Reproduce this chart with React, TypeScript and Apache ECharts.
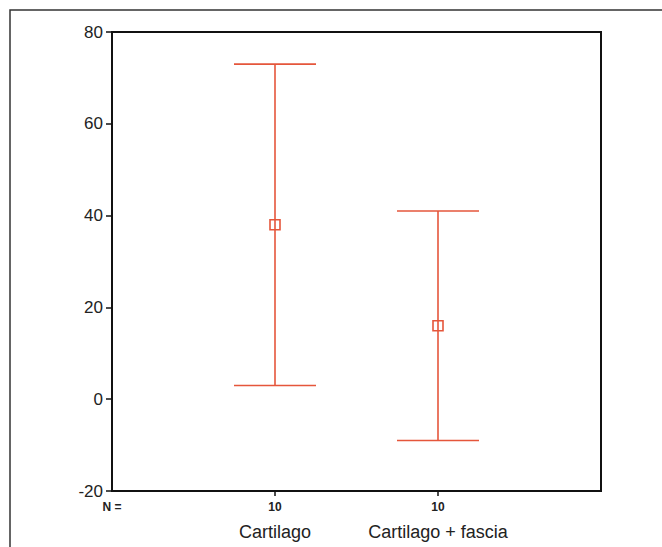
import React, { useEffect, useRef } from "react";
import * as echarts from "echarts";

const categories = ["Cartilago", "Cartilago + fascia"];
const nValues = [10, 10];
const means = [38, 16];
const upper = [73, 41];
const lower = [3, -9];
const yTicks = [-20, 0, 20, 40, 60, 80];

const RED = "#e5563b";
const FONT = "Liberation Sans, Arial, sans-serif";

export default function App() {
  const ref = useRef<HTMLDivElement>(null);
  useEffect(() => {
    if (!ref.current) return;
    const chart = echarts.init(ref.current, undefined, { renderer: "svg" });
    const axisData = ["", ...categories, ""];
    const nLabels = ["N =", ...nValues.map(String), ""];
    const data = categories.map((c, i) => [i + 1, lower[i], upper[i], means[i]]);
    chart.setOption({
      animation: false,
      backgroundColor: "#fff",
      graphic: [
        {
          type: "rect",
          shape: { x: 10, y: 10, width: 700, height: 600 },
          style: { fill: "none", stroke: "#333", lineWidth: 1.5 },
          silent: true,
        },
      ],
      grid: {
        left: 112,
        top: 32,
        right: 61,
        bottom: 56,
        show: true,
        borderColor: "#111",
        borderWidth: 2,
        backgroundColor: "transparent",
      },
      xAxis: {
        type: "category",
        data: axisData,
        boundaryGap: false,
        axisLine: { show: true, onZero: false, lineStyle: { color: "#111", width: 2 } },
        axisTick: {
          show: true,
          length: 5,
          interval: (idx: number) => idx >= 1 && idx <= categories.length,
          lineStyle: { color: "#111", width: 1.5 },
        },
        splitLine: { show: false },
        axisLabel: {
          interval: 0,
          margin: 8,
          formatter: (_v: string, idx: number) =>
            `{n|${nLabels[idx] || " "}}\n{c|${axisData[idx] || " "}}`,
          rich: {
            n: {
              fontSize: 12,
              fontWeight: "bold",
              fontFamily: FONT,
              color: "#222",
              lineHeight: 16,
            },
            c: {
              fontSize: 18,
              fontFamily: FONT,
              color: "#222",
              lineHeight: 34,
            },
          },
        },
      },
      yAxis: {
        type: "value",
        min: yTicks[0],
        max: yTicks[yTicks.length - 1],
        interval: 20,
        axisLine: { show: true, lineStyle: { color: "#111", width: 2 } },
        axisTick: { show: true, length: 6, lineStyle: { color: "#111", width: 1.5 } },
        splitLine: { show: false },
        axisLabel: {
          fontSize: 17,
          margin: 9,
          color: "#222",
          fontFamily: FONT,
        },
      },
      series: [
        {
          type: "custom",
          data,
          encode: { x: 0, y: [1, 2, 3] },
          renderItem: (params: any, api: any) => {
            const x = api.value(0);
            const lo = api.coord([x, api.value(1)]);
            const hi = api.coord([x, api.value(2)]);
            const m = api.coord([x, api.value(3)]);
            const hw = 41;
            const s = 10;
            const style = { stroke: RED, lineWidth: 1.6, fill: "none" };
            return {
              type: "group",
              children: [
                { type: "line", shape: { x1: hi[0], y1: hi[1], x2: lo[0], y2: lo[1] }, style },
                { type: "line", shape: { x1: hi[0] - hw, y1: hi[1], x2: hi[0] + hw, y2: hi[1] }, style },
                { type: "line", shape: { x1: lo[0] - hw, y1: lo[1], x2: lo[0] + hw, y2: lo[1] }, style },
                {
                  type: "rect",
                  shape: { x: m[0] - s / 2, y: m[1] - s / 2, width: s, height: s },
                  style: { stroke: RED, lineWidth: 1.6, fill: "#fff" },
                },
                { type: "line", shape: { x1: m[0], y1: m[1] - s / 2, x2: m[0], y2: m[1] + s / 2 }, style },
              ],
            };
          },
        },
      ],
    });
    return () => chart.dispose();
  }, []);
  return (
    <div
      ref={ref}
      style={{ position: "fixed", left: 0, top: 0, width: 662, height: 547 }}
    />
  );
}
